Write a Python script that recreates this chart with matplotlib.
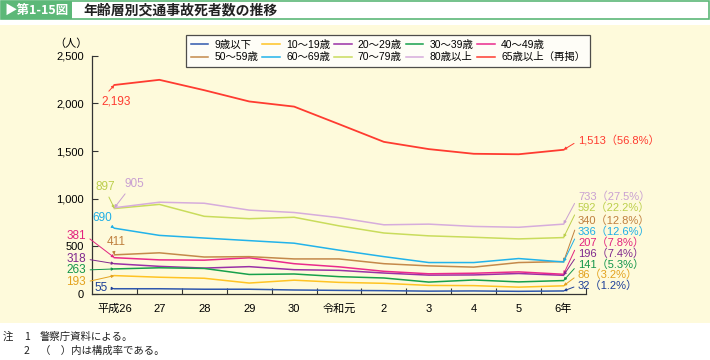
import matplotlib
matplotlib.use("Agg")
import matplotlib.pyplot as plt
from matplotlib.lines import Line2D
from matplotlib.patches import Rectangle

plt.rcParams['font.family'] = ['Liberation Sans', 'Noto Sans CJK JP', 'DejaVu Sans']

# ── Data ───────────────────────────────────────────────
years = ['平成26', '27', '28', '29', '30', '令和元', '2', '3', '4', '5', '6年']

age_9   = [55, 55, 50, 50, 42, 38, 35, 30, 32, 28, 32]
age_10  = [193, 176, 165, 115, 145, 122, 112, 90, 88, 72, 86]
age_20  = [318, 290, 272, 287, 255, 248, 220, 198, 200, 215, 196]
age_30  = [263, 275, 268, 205, 210, 182, 168, 125, 147, 127, 141]
age_40  = [381, 358, 355, 380, 318, 285, 238, 212, 218, 232, 207]
age_50  = [411, 432, 388, 392, 368, 368, 318, 295, 282, 330, 340]
age_60  = [690, 615, 587, 560, 533, 460, 392, 330, 330, 372, 336]
age_70  = [897, 940, 815, 790, 805, 715, 640, 610, 595, 578, 592]
age_80  = [905, 963, 952, 880, 855, 801, 726, 733, 709, 700, 733]
age_65  = [2193, 2247, 2138, 2020, 1966, 1782, 1596, 1520, 1471, 1466, 1513]

# 令和6年の構成率(%)
share_6 = {'65': 56.8, '80': 27.5, '70': 22.2, '50': 12.8, '60': 12.6,
           '40': 7.8, '20': 7.4, '30': 5.3, '10': 3.2, '9': 1.2}

names = {'9': '9歳以下', '10': '10～19歳', '20': '20～29歳', '30': '30～39歳',
         '40': '40～49歳', '50': '50～59歳', '60': '60～69歳', '70': '70～79歳',
         '80': '80歳以上', '65': '65歳以上（再掲）'}
series = {'9': age_9, '10': age_10, '20': age_20, '30': age_30, '40': age_40,
          '50': age_50, '60': age_60, '70': age_70, '80': age_80, '65': age_65}

# ── Style ──────────────────────────────────────────────
line_col = {'9': '#2f58ad', '10': '#ffc323', '20': '#9a31a6', '30': '#17a04b',
            '40': '#ea2a8c', '50': '#c4894a', '60': '#22b3ea', '70': '#c9dc5c',
            '80': '#d6acdc', '65': '#ff3b30'}
text_col = {'9': '#1d3f98', '10': '#e3a21e', '20': '#80288e', '30': '#13954a',
            '40': '#e2237f', '50': '#bf7f3e', '60': '#1eaee6', '70': '#bccf4c',
            '80': '#c9a0d2', '65': '#ff3b30'}

W, H = 710, 360
def fp(x, y):
    # image pixel -> figure fraction
    return (x / W, 1 - y / H)

fig = plt.figure(figsize=(7.1, 3.6), dpi=100)
fig.patch.set_facecolor('white')

# header & background
fig.patches.append(Rectangle(fp(0, 323), 1, (323 - 25) / H, transform=fig.transFigure,
                             facecolor='#fefadb', edgecolor='none', zorder=-3))
fig.patches.append(Rectangle(fp(1, 19), 708 / W, 18 / H, transform=fig.transFigure,
                             facecolor='white', edgecolor='#5cb878', lw=1.2, zorder=-2))
fig.patches.append(Rectangle(fp(1, 19), 71 / W, 18 / H, transform=fig.transFigure,
                             facecolor='#5cb878', edgecolor='none', zorder=-1))
fig.text(*fp(4, 10.5), '▶第1-15図', color='white', fontsize=9, fontweight='bold',
         family=['Noto Sans CJK JP', 'DejaVu Sans'], va='center', ha='left')
fig.text(*fp(83, 10.5), '年齢層別交通事故死者数の推移', color='#222222', fontsize=10,
         fontweight='bold', family=['Noto Sans CJK JP'], va='center', ha='left')

# ── Axes ───────────────────────────────────────────────
ax = fig.add_axes([92 / W, 66 / H, 494 / W, (294 - 55.7) / H])
ax.set_facecolor('none')
x = list(range(len(years)))
for key in ['9', '10', '20', '30', '40', '50', '60', '70', '80', '65']:
    ax.plot(x, series[key], color=line_col[key], lw=1.3 if key == '65' else 1.1, zorder=3)

ax.set_xlim(-0.5, len(years) - 0.5)
ax.set_ylim(0, 2500)
ax.set_yticks([0, 500, 1000, 1500, 2000, 2500])
ax.set_yticklabels(['0', '500', '1,000', '1,500', '2,000', '2,500'], fontsize=8)
ax.set_xticks(x)
ax.set_xticklabels(years, fontsize=8)
ax.set_xticks([i + 0.5 for i in x], minor=True)
ax.tick_params(axis='x', which='major', length=0, pad=7)
ax.tick_params(axis='x', which='minor', direction='in', length=4, width=0.8, color='#333333')
ax.tick_params(axis='y', direction='in', length=4, width=0.8, color='#333333', pad=6)
for s in ['top', 'right']:
    ax.spines[s].set_visible(False)
for s in ['left', 'bottom']:
    ax.spines[s].set_color('#333333')
    ax.spines[s].set_linewidth(0.9)

fig.text(*fp(71, 44), '（人）', fontsize=8, ha='center', va='center')

# ── Legend ─────────────────────────────────────────────
order = ['9', '50', '10', '60', '20', '70', '30', '80', '40', '65']
handles = [Line2D([], [], color=line_col[k], lw=1.1) for k in order]
labels = [names[k] for k in order]
leg = fig.legend(handles, labels, ncol=5, loc='upper left', bbox_to_anchor=fp(186, 35),
                 fontsize=7.5, frameon=True, fancybox=False, edgecolor='#222222',
                 handlelength=1.7, handletextpad=0.6, columnspacing=0.35,
                 labelspacing=0.25, borderpad=0.45, borderaxespad=0)
leg.get_frame().set_linewidth(0.9)

# ── Value labels ───────────────────────────────────────
def label(key, idx, text, tx, ty, ha, relpos, size=8.5):
    ax.annotate(text, xy=(idx, series[key][idx]), xycoords='data',
                xytext=fp(tx, ty), textcoords='figure fraction',
                ha=ha, va='center', fontsize=size, color=text_col[key],
                arrowprops=dict(arrowstyle='-|>', mutation_scale=4, lw=0.7,
                                color=text_col[key], relpos=relpos,
                                shrinkA=1, shrinkB=0), zorder=5)

first = [
    ('65', 101, 101, 'left',   (0.15, 1.0)),
    ('70', 105, 187, 'center', (0.6, 0.0)),
    ('80', 134, 184, 'center', (0.2, 0.0)),
    ('60', 102, 218, 'center', (0.8, 0.0)),
    ('50', 116, 242, 'center', (0.35, 0.0)),
    ('40', 86, 236, 'right',   (1.0, 0.5)),
    ('20', 86, 259, 'right',   (1.0, 0.5)),
    ('30', 86, 270, 'right',   (1.0, 0.5)),
    ('10', 86, 282, 'right',   (1.0, 0.5)),
    ('9',  101, 288, 'center', (1.0, 0.5)),
]
for key, tx, ty, ha, rp in first:
    label(key, 0, f"{series[key][0]:,}", tx, ty, ha, rp)

last = [('65', 141), ('80', 197), ('70', 208), ('50', 221), ('60', 232),
        ('40', 243), ('20', 254), ('30', 264.5), ('10', 275), ('9', 285.5)]
for key, ty in last:
    label(key, len(years) - 1, f"{series[key][-1]:,}（{share_6[key]}%）",
          578, ty, 'left', (0.0, 0.5), size=8)

# ── Notes ──────────────────────────────────────────────
nkw = dict(fontsize=7.5, va='center', ha='left', family=['Noto Sans CJK JP'], color='#222222')
fig.text(*fp(3, 337), '注', **nkw)
fig.text(*fp(24, 337), '1', **nkw)
fig.text(*fp(40, 337), '警察庁資料による。', **nkw)
fig.text(*fp(24, 351), '2', **nkw)
fig.text(*fp(40, 351), '（　）内は構成率である。', **nkw)

fig.savefig('out.png', dpi=100)
